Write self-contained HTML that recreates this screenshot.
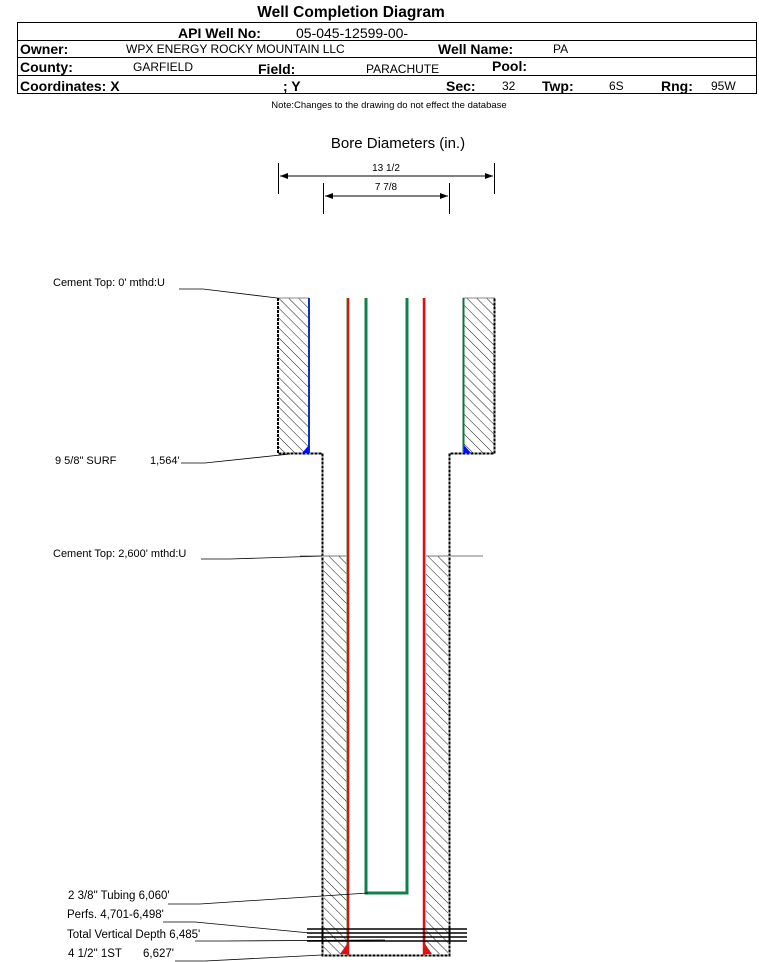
<!DOCTYPE html>
<html><head><meta charset="utf-8"><style>
body{margin:0;background:#fff;width:759px;height:962px;overflow:hidden}
svg{display:block}
text{font-family:"Liberation Sans",sans-serif}
</style></head><body>
<svg width="759" height="962" viewBox="0 0 759 962" xmlns="http://www.w3.org/2000/svg">
<defs>
<pattern id="h" patternUnits="userSpaceOnUse" width="7" height="7" patternTransform="rotate(-45)">
<line x1="0" y1="0" x2="0" y2="7" stroke="#000" stroke-width="0.9"/>
</pattern>
<marker id="a" markerWidth="8" markerHeight="6" refX="8" refY="3" orient="auto"><path d="M0,0 L8,3 L0,6z" fill="#000"/></marker>
<marker id="b" markerWidth="8" markerHeight="6" refX="0" refY="3" orient="auto"><path d="M8,0 L0,3 L8,6z" fill="#000"/></marker>
</defs>
<text x="351" y="17" font-size="15.5" font-weight="bold" text-anchor="middle">Well Completion Diagram</text>
<rect x="17.5" y="22.5" width="739" height="71" fill="none" stroke="#000"/>
<line x1="17" y1="40.5" x2="757" y2="40.5" stroke="#000"/>
<line x1="17" y1="57.5" x2="757" y2="57.5" stroke="#000"/>
<line x1="17" y1="75.5" x2="757" y2="75.5" stroke="#000"/>
<text x="178" y="38" font-size="14" font-weight="bold">API Well No:</text>
<text x="296" y="38" font-size="14">05-045-12599-00-</text>
<text x="20" y="54" font-size="14" font-weight="bold">Owner:</text>
<text x="126" y="53" font-size="12">WPX ENERGY ROCKY MOUNTAIN LLC</text>
<text x="438" y="54" font-size="14" font-weight="bold">Well Name:</text>
<text x="553" y="53" font-size="12">PA</text>
<text x="20" y="72" font-size="14" font-weight="bold">County:</text>
<text x="133" y="71" font-size="12">GARFIELD</text>
<text x="258" y="74" font-size="14" font-weight="bold">Field:</text>
<text x="366" y="73" font-size="12">PARACHUTE</text>
<text x="492" y="71" font-size="14" font-weight="bold">Pool:</text>
<text x="20" y="91" font-size="14" font-weight="bold">Coordinates: X</text>
<text x="283" y="91" font-size="14" font-weight="bold">; Y</text>
<text x="446" y="91" font-size="14" font-weight="bold">Sec:</text>
<text x="502" y="90" font-size="12">32</text>
<text x="542" y="91" font-size="14" font-weight="bold">Twp:</text>
<text x="609" y="90" font-size="12">6S</text>
<text x="661" y="91" font-size="14" font-weight="bold">Rng:</text>
<text x="711" y="90" font-size="12">95W</text>
<text x="389" y="108" font-size="9.5" text-anchor="middle">Note:Changes to the drawing do not effect the database</text>
<text x="398" y="148" font-size="15" text-anchor="middle">Bore Diameters (in.)</text>
<line x1="278.5" y1="163" x2="278.5" y2="194" stroke="#000"/>
<line x1="494.5" y1="163" x2="494.5" y2="194" stroke="#000"/>
<line x1="280" y1="176" x2="493" y2="176" stroke="#000" marker-end="url(#a)" marker-start="url(#b)"/>
<text x="386" y="171" font-size="10" text-anchor="middle">13 1/2</text>
<line x1="323.5" y1="183" x2="323.5" y2="214" stroke="#000"/>
<line x1="449.5" y1="183" x2="449.5" y2="214" stroke="#000"/>
<line x1="325" y1="196" x2="448" y2="196" stroke="#000" marker-end="url(#a)" marker-start="url(#b)"/>
<text x="386" y="190" font-size="10" text-anchor="middle">7 7/8</text>
<rect x="278" y="298" width="31" height="155" fill="url(#h)"/>
<rect x="463" y="298" width="32" height="155" fill="url(#h)"/>
<line x1="277" y1="298" x2="309" y2="298" stroke="#888"/>
<line x1="463" y1="298" x2="495" y2="298" stroke="#888"/>
<path d="M278,298 V453.5 H322.5 V955.5 H449.5 V453.5 H494.5 V298" fill="none" stroke="#000" stroke-width="2" stroke-dasharray="3,1"/>
<line x1="309" y1="298" x2="309" y2="453" stroke="#1030c0" stroke-width="2"/>
<line x1="463.5" y1="298" x2="463.5" y2="453" stroke="#107040" stroke-width="2"/>
<path d="M302,453 L309,445 V453z" fill="#0010ff"/>
<path d="M464,445 L471,453 H464z" fill="#0010ff"/>
<rect x="324" y="556" width="23" height="398" fill="url(#h)"/>
<rect x="426" y="556" width="22" height="398" fill="url(#h)"/>
<line x1="300" y1="556" x2="347" y2="556" stroke="#777"/>
<line x1="426" y1="556" x2="483" y2="556" stroke="#777"/>
<line x1="348" y1="298" x2="348" y2="955" stroke="#e01010" stroke-width="2.5"/>
<line x1="424" y1="298" x2="424" y2="955" stroke="#e01010" stroke-width="2.5"/>
<line x1="346.5" y1="298" x2="346.5" y2="955" stroke="#80c080" stroke-width="0.6"/>
<line x1="425.5" y1="298" x2="425.5" y2="955" stroke="#80c080" stroke-width="0.6"/>
<path d="M340,954 L347,944 V954z" fill="#e01010"/>
<path d="M425,944 L432,954 H425z" fill="#e01010"/>
<path d="M366,298 V893 H407 V298" fill="none" stroke="#108050" stroke-width="3"/>
<g stroke="#000" stroke-width="1.6">
<line x1="307" y1="929" x2="467" y2="929"/>
<line x1="307" y1="933" x2="467" y2="933"/>
<line x1="307" y1="937" x2="467" y2="937"/>
<line x1="307" y1="941" x2="467" y2="941"/>
</g>
<g font-size="11">
<text x="53" y="286">Cement Top: 0' mthd:U</text>
<text x="55" y="464">9 5/8" SURF</text><text x="150" y="464">1,564'</text>
<text x="53" y="557">Cement Top: 2,600' mthd:U</text>
</g>
<g font-size="11.5">
<text x="68" y="899">2 3/8" Tubing 6,060'</text>
<text x="67" y="918">Perfs. 4,701-6,498'</text>
<text x="67" y="938">Total Vertical Depth 6,485'</text>
<text x="68" y="957">4 1/2" 1ST</text><text x="143" y="957">6,627'</text>
</g>
<g stroke="#000" stroke-width="0.8" fill="none">
<polyline points="179,289 203,289 277,298"/>
<polyline points="181,463 205,463 290,454"/>
<polyline points="201,559 230,559 322,556"/>
<polyline points="168,904 200,904 368,893"/>
<polyline points="163,922 195,922 310,933"/>
<polyline points="195,941 225,941 385,940"/>
<polyline points="175,961 205,961 322,955"/>
</g>
</svg>
</body></html>
